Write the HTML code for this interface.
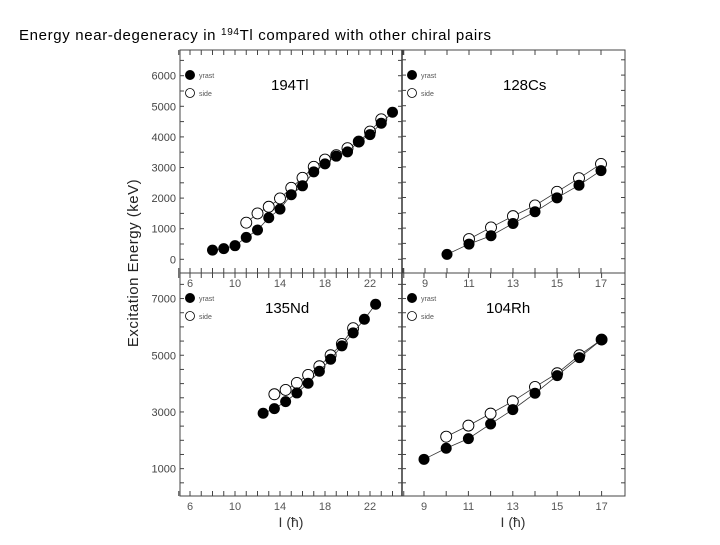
<!DOCTYPE html>
<html><head><meta charset="utf-8"><style>
body{margin:0;background:#fff;width:720px;height:540px;overflow:hidden;font-family:"Liberation Sans",sans-serif}
svg text{font-family:"Liberation Sans",sans-serif}
</style></head><body>
<svg id="c" width="720" height="540">
<text x="19" y="40" font-size="15" fill="#000" textLength="472" lengthAdjust="spacing">Energy near-degeneracy in <tspan font-size="10" dy="-5">194</tspan><tspan dy="5">Tl compared with other chiral pairs</tspan></text>
<text transform="translate(138,263) rotate(-90)" text-anchor="middle" font-size="15" fill="#222" letter-spacing="0.5">Excitation Energy (keV)</text>
<text x="291" y="527" text-anchor="middle" font-size="14" fill="#333">I (ħ)</text>
<text x="513" y="527" text-anchor="middle" font-size="14" fill="#333">I (ħ)</text>
</svg>
<script>
// 194Tl
const tlSpin=[8,9,10,11,12,13,14,15,16,17,18,19,20,21,22,23,24];
const tlYrast=[300,350,445,717,956,1358,1641,2108,2402,2859,3120,3370,3510,3837,4076,4446,4804];
const tlSideSpin=[11,12,13,14,15,16,17,18,19,20,21,22,23];
const tlSide=[1196,1500,1717,1989,2337,2663,3022,3261,3402,3630,3848,4174,4576];
// 128Cs
const csSpin=[10,11,12,13,14,15,16,17];
const csYrast=[141,478,750,1152,1533,1989,2402,2880];
const csSideSpin=[11,12,13,14,15,16,17];
const csSide=[641,1022,1391,1739,2185,2630,3098];
// 135Nd
const ndSpin=[12.5,13.5,14.5,15.5,16.5,17.5,18.5,19.5,20.5,21.5,22.5];
const ndYrast=[2953,3118,3365,3671,4012,4435,4859,5329,5788,6271,6800];
const ndSideSpin=[13.5,14.5,15.5,16.5,17.5,18.5,19.5,20.5];
const ndSide=[3624,3776,4024,4306,4612,5000,5400,5953];
// 104Rh
const rhSpin=[9,10,11,12,13,14,15,16,17];
const rhYrast=[1329,1718,2059,2576,3082,3659,4282,4918,5553];
const rhSideSpin=[10,11,12,13,14,15,16,17];
const rhSide=[2129,2518,2941,3376,3882,4365,5000,5553];
const leftTicks=[6,10,14,18,22];
const rightTicks=[9,11,13,15,17];
const topYTicks=[0,1000,2000,3000,4000,5000,6000];
const botYTicks=[1000,3000,5000,7000];

const svg=document.getElementById('c');
const NS='http://www.w3.org/2000/svg';
function mk(t,a){const e=document.createElementNS(NS,t);for(const k in a)e.setAttribute(k,a[k]);svg.appendChild(e);return e;}

const fr=mk('rect',{x:180,y:50,width:445,height:446,fill:'none',stroke:'#444','stroke-width':1});

const vl=mk('line',{x1:402,y1:50,x2:402,y2:496,stroke:'#333','stroke-width':1.5});

const hl=mk('line',{x1:180,y1:273,x2:625,y2:273,stroke:'#444','stroke-width':1});


function panel(o){
  const xs=i=>o.x0+(i-o.i0)*o.ux;
  const ys=e=>o.y0-e*o.uy;
  for(let i=o.tmin;i<=o.tmax;i+=o.tstep){
    const t=mk('line',{x1:xs(i),y1:o.by,x2:xs(i),y2:o.by-5,stroke:'#444'});
    
    const t2=mk('line',{x1:xs(i),y1:o.ty,x2:xs(i),y2:o.ty+5,stroke:'#444'});
    
  }
  o.xt.forEach(v=>{const t=mk('text',{x:xs(v),y:o.by+14,'text-anchor':'middle','font-size':11,fill:'#555'});t.textContent=v;
    });
  for(let e=o.ymin;e<=o.ymax;e+=500){const y=ys(e);if(y<o.ty+2||y>o.by-2)continue;
    const t=mk('line',{x1:o.lx,y1:y,x2:o.lx+4,y2:y,stroke:'#444'});
    
    const t2=mk('line',{x1:o.rx,y1:y,x2:o.rx-4,y2:y,stroke:'#444'});
    }
  if(o.yt)o.yt.forEach(v=>{const t=mk('text',{x:176,y:ys(v)+4,'text-anchor':'end','font-size':11,fill:'#444'});t.textContent=v;
    });
  function series(sp,en,filled,name){
    const pts=sp.map((s,k)=>xs(s)+','+ys(en[k])).join(' ');
    const l=mk('polyline',{points:pts,fill:'none',stroke:'#333','stroke-width':0.8});
    
    sp.forEach((s,k)=>{const c=mk('circle',{cx:xs(s),cy:ys(en[k]),r:5.5,fill:filled?'#000':'#fff',stroke:'#000','stroke-width':filled?0:0.9});
      });
  }
  series(o.ss,o.se,false,o.name+'-side');
  series(o.ys_,o.ye,true,o.name+'-yrast');
  const a=mk('circle',{cx:o.lx+10,cy:o.ty+25,r:5,fill:'#000'});
  const b=mk('circle',{cx:o.lx+10,cy:o.ty+43,r:4.5,fill:'#fff',stroke:'#000','stroke-width':0.8});
  const ta=mk('text',{x:o.lx+19,y:o.ty+28,'font-size':7,fill:'#555'});ta.textContent='yrast';
  const tb=mk('text',{x:o.lx+19,y:o.ty+46,'font-size':7,fill:'#555'});tb.textContent='side';
  const lab=mk('text',{x:o.labx,y:o.ty+40,'font-size':15,fill:'#000'});lab.textContent=o.label;
  
}
panel({name:'tl194',label:'194Tl',labx:271,x0:190,i0:6,ux:11.25,y0:259.3,uy:0.0306,ty:50,by:273,lx:180,rx:402,
  tmin:5,tmax:25,tstep:1,xt:leftTicks,ymin:-500,ymax:7000,yt:topYTicks,ys_:tlSpin,ye:tlYrast,ss:tlSideSpin,se:tlSide});
panel({name:'cs128',label:'128Cs',labx:503,x0:425,i0:9,ux:22,y0:258.7,uy:0.0306,ty:50,by:273,lx:402,rx:625,
  tmin:8,tmax:17,tstep:1,xt:rightTicks,ymin:-500,ymax:7000,yt:null,ys_:csSpin,ye:csYrast,ss:csSideSpin,se:csSide});
panel({name:'nd135',label:'135Nd',labx:265,x0:190,i0:6,ux:11.25,y0:497,uy:0.02835,ty:273,by:496,lx:180,rx:402,
  tmin:5,tmax:25,tstep:1,xt:leftTicks,ymin:0,ymax:8000,yt:botYTicks,ys_:ndSpin,ye:ndYrast,ss:ndSideSpin,se:ndSide});
panel({name:'rh104',label:'104Rh',labx:486,x0:424,i0:9,ux:22.2,y0:497,uy:0.02835,ty:273,by:496,lx:402,rx:625,
  tmin:8,tmax:17,tstep:1,xt:rightTicks,ymin:0,ymax:8000,yt:null,ys_:rhSpin,ye:rhYrast,ss:rhSideSpin,se:rhSide});
</script>
</body></html>
